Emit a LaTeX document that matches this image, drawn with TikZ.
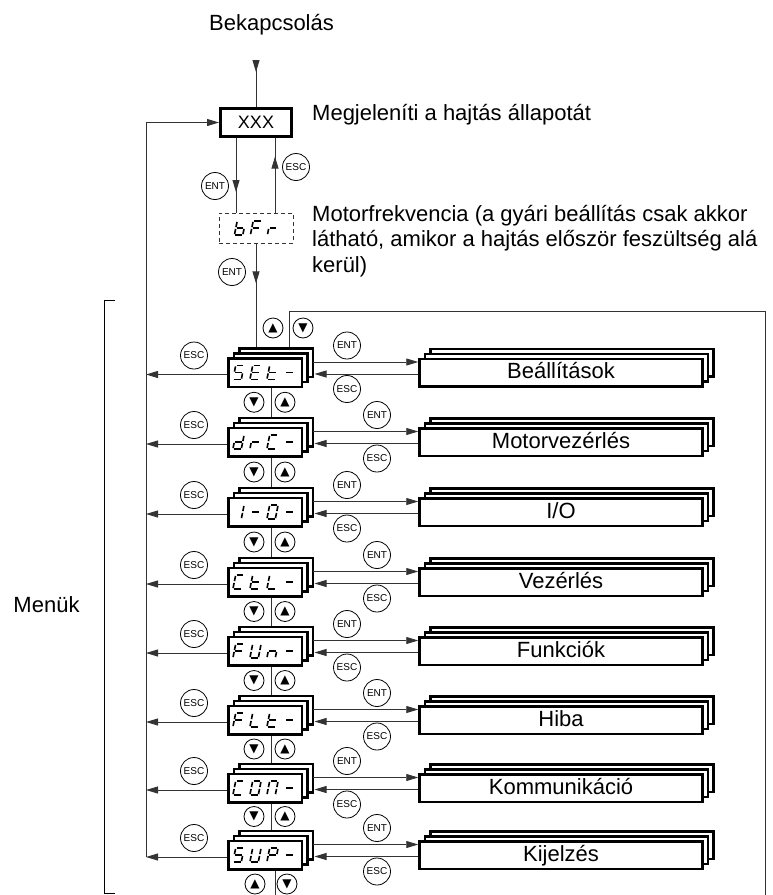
\documentclass[tikz,border=0pt]{standalone}
\usepackage{fontspec}
\setmainfont{Liberation Sans}
\newfontfamily\symfont{DejaVu Sans}
\usetikzlibrary{arrows.meta,calc,shadows,decorations.markings}
\definecolor{wireline}{HTML}{333333}

% seven-segment display glyphs
\def\sega{(-3.4,-7) -- (3.4,-7)}
\def\segb{(4.2,-6.1) -- (4.2,-0.9)}
\def\segc{(4.2,0.9) -- (4.2,6.1)}
\def\segd{(-3.4,7) -- (3.4,7)}
\def\sege{(-4.2,0.9) -- (-4.2,6.1)}
\def\segf{(-4.2,-6.1) -- (-4.2,-0.9)}
\def\segg{(-3.4,0) -- (3.4,0)}
\def\glyphS{a,f,g,c,d}
\def\glyphE{a,f,g,e,d}
\def\glyphF{a,f,g,e}
\def\glyphC{a,f,e,d}
\def\glyphL{f,e,d}
\def\glyphU{f,e,d,c,b}
\def\glyphP{a,b,f,g,e}
\def\glyphO{a,b,c,d,e,f}
\def\glyphN{a,b,c,e,f}
\def\glyphI{b,c}
\def\glyphb{f,e,d,c,g}
\def\glyphd{b,c,d,e,g}
\def\glyphr{e,g}
\def\glypht{f,g,e,d}
\def\glyphn{e,g,c}
\expandafter\def\csname glyph-\endcsname{g}

\tikzset{
  wire/.style={line width=0.9pt, draw=wireline},
  arrow/.style={wire, -{Triangle[length=12pt,width=7pt]}},
  midarrow/.style={wire, postaction={decorate, decoration={markings,
      mark=at position #1 with {\arrow{Triangle[length=12pt,width=7pt]}}}}},
  keybox/.style={draw, circle, line width=0.8pt, minimum size=27pt,
    inner sep=0pt, font=\fontsize{10}{10}\selectfont},
  navkey/.style={draw, circle, line width=0.8pt, minimum size=20pt,
    inner sep=0pt, font=\symfont\fontsize{12}{12}\selectfont},
  stackshadow/.style={copy shadow={shadow xshift=11pt, shadow yshift=10pt},
    copy shadow={shadow xshift=5.5pt, shadow yshift=5pt}},
  menubox/.style={draw, fill=white, line width=2.5pt, minimum width=73.5pt,
    minimum height=28.5pt, inner sep=0pt, stackshadow},
  pagebox/.style={menubox, minimum width=283pt, minimum height=27.5pt,
    text height=15.5pt, text depth=3.5pt},
  statebox/.style={draw, line width=3pt, minimum width=71pt, minimum height=28pt,
    inner sep=0pt, font=\fontsize{18}{20}\selectfont},
  freqbox/.style={draw=wireline, line width=0.8pt, dash pattern=on 4pt off 3pt,
    minimum width=74pt, minimum height=30pt},
  segline/.style={line width=1.6pt, xslant=0.2},
  seg/.pic={\foreach \sg in #1 {\draw[segline] \csname seg\sg\endcsname;}}
}

\begin{document}
\begin{tikzpicture}[x=1pt, y=-1pt, font=\fontsize{22}{25.5}\selectfont]
  \useasboundingbox (0,0) rectangle (773,895);
  \clip (0,0) rectangle (773,895);

  \node[anchor=base] (power) at (271.5,30) {Bekapcsolás};
  \node[statebox] (xxx) at (256,122.5) {XXX};
  \node[anchor=base west, inner sep=0pt] (statetxt) at (312,120) {Megjeleníti a hajtás állapotát};
  \node[freqbox] (bfr) at (256,228) {};
  \pic at ([xshift=-16pt]bfr.center) {seg=\glyphb};
  \pic at (bfr.center) {seg=\glyphF};
  \pic at ([xshift=17pt]bfr.center) {seg=\glyphr};
  \node[anchor=west, align=left, inner sep=0pt] (freqtxt) at (312,241)
    {Motorfrekvencia (a gyári beállítás csak akkor\\
     látható, amikor a hajtás először feszültség alá\\
     kerül)};
  \node[anchor=base] (menus) at (46.5,612) {Menük};

  \node[keybox] (entxxx) at (215,186) {ENT};
  \node[keybox] (escxxx) at (296,167) {ESC};
  \node[keybox] (entbfr) at (232,272) {ENT};

  \coordinate (pwrin) at (256,60);
  \draw[midarrow=12pt] (pwrin) -- (xxx.north);
  \draw[midarrow=54pt] ([xshift=-20pt]xxx.south) -- ([xshift=-20pt]bfr.north);
  \draw[midarrow=56pt] ([xshift=19pt]bfr.north) -- ([xshift=19pt]xxx.south);

  \foreach \i/\y/\code/\lbl/\ex in {
      1/372.5/{S,E,t,-}/{Beállítások}/347,
      2/442/{d,r,C,-}/{Motorvezérlés}/377,
      3/512/{I,-,O,-}/{I/O}/347,
      4/582/{C,t,L,-}/{Vezérlés}/377,
      5/651/{F,U,n,-}/{Funkciók}/347,
      6/720/{F,L,t,-}/{Hiba}/377,
      7/788/{C,O,N,-}/{Kommunikáció}/347,
      8/855/{S,U,P,-}/{Kijelzés}/377} {
    \node[menubox] (m\i) at (265,\y) {};
    \foreach \ch [count=\k] in \code {
      \edef\segs{\csname glyph\ch\endcsname}
      \pic at ([xshift={17*\k-43.5}]m\i.center) {seg=\segs};
    }
    \node[pagebox] (r\i) at (561,\y) {\lbl};
    \node[keybox] (escl\i) at (194,\y-17) {ESC};
    \node[keybox] (entr\i) at (\ex,\y-27) {ENT};
    \node[keybox] (escr\i) at (\ex,\y+16.5) {ESC};
    \draw[arrow] ([xshift=10pt,yshift=10.5pt]m\i.east) -- ([yshift=10.5pt]r\i.west);
    \draw[arrow] ([yshift=-1.5pt]r\i.west) -- ([xshift=11.5pt,yshift=-1.5pt]m\i.east);
  }

  \coordinate (ret) at (146,857);
  \foreach \i in {1,...,8}
    \draw[arrow] ([yshift=-2pt]m\i.west) -- ([yshift=-2pt]m\i.west -| ret);
  \draw[arrow] (ret) |- (xxx.west);

  \foreach \i/\j in {1/2,2/3,3/4,4/5,5/6,6/7,7/8} {
    \draw[wire] ([xshift=6pt]m\i.south) -- ([xshift=6pt,yshift=10pt]m\j.north);
    \path ($(m\i.south)!0.5!(m\j.north)$) ++(-11,-5) node[navkey] (dn\i) {▼}
      ++(31,0) node[navkey] (up\i) {▲};
  }

  \coordinate (m1loop) at ([xshift=24pt,yshift=10pt]m1.north);
  \coordinate (loopcorner) at (765,311);
  \draw[midarrow=40pt] (bfr.south) -- (bfr.south |- m1loop);
  \draw[wire] ([xshift=10pt]m8.south) -- ++(0,40) -| (loopcorner) -| (m1loop);
  \node[navkey] (up0) at (273,328) {▲};
  \node[navkey] (dn0) at (303,328) {▼};
  \node[navkey] (up8) at (255,884) {▲};
  \node[navkey] (dn8) at (287,884) {▼};

  \draw[line width=0.9pt] (115,300) -| (104,893) -- (115,893);
\end{tikzpicture}
\end{document}
